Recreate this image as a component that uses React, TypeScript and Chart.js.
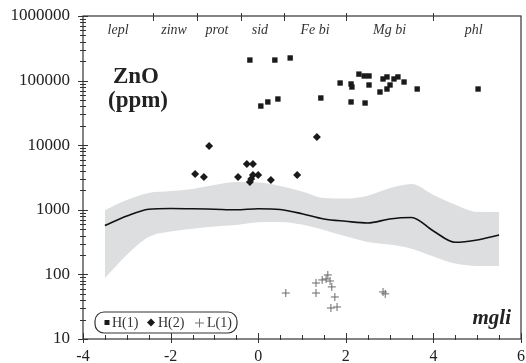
import React, { useEffect, useRef } from 'react';
import { Chart, registerables } from 'chart.js';

Chart.register(...registerables);

// ---- data ----
const curveX = [-3.5, -3.0, -2.5, -2.0, -1.5, -1.0, -0.5, 0, 0.5, 1.0, 1.5, 2.0, 2.5, 3.0, 3.5, 4.0, 4.5, 5.0, 5.5];
const bandUpper = [990, 1420, 1820, 1950, 2100, 2420, 2690, 2650, 2340, 1920, 1520, 1490, 1650, 2150, 2500, 1700, 1200, 930, 925];
const bandLower = [88, 200, 379, 460, 510, 550, 582, 640, 650, 590, 487, 389, 318, 290, 250, 190, 147, 135, 135];
const trendLine = [570, 800, 1020, 1050, 1040, 1020, 1000, 1040, 1010, 870, 720, 664, 625, 721, 760, 470, 314, 341, 407];

const h1X = [-0.19, 0.38, 0.73, 0.06, 0.22, 0.45, 1.43, 1.87, 2.12, 2.14, 2.30, 2.42, 2.53, 2.53, 2.12, 2.44, 2.78, 2.85, 2.94, 2.94, 3.01, 3.10, 3.19, 3.33, 3.63, 5.02];
const h1Y = [208000, 208000, 224000, 40400, 46700, 51900, 53800, 91800, 88700, 79600, 126000, 118000, 118000, 85500, 46700, 45000, 66600, 106000, 114000, 74100, 85500, 106000, 114000, 95100, 74100, 74100];

const h2X = [-1.12, -1.44, -1.24, -0.26, -0.12, -0.46, -0.19, -0.16, -0.12, 0.0, 0.29, 0.89, 1.34];
const h2Y = [9720, 3580, 3220, 5120, 5120, 3220, 2690, 3000, 3460, 3460, 2890, 3460, 13400];

const l1X = [0.63, 1.32, 1.32, 1.46, 1.55, 1.59, 1.64, 1.68, 1.75, 1.66, 1.80, 2.85, 2.90];
const l1Y = [51.5, 73.6, 51.5, 82, 85, 98, 79, 64, 44.7, 30.2, 31.3, 53.5, 50];

const xTickValues = [-4, -2, 0, 2, 4, 6];
const yTickValues = [10, 100, 1000, 10000, 100000, 1000000];
const mineralLabels = ['lepl', 'zinw', 'prot', 'sid', 'Fe bi', 'Mg bi', 'phl'];
const mineralPos = [-3.2, -1.92, -0.94, 0.04, 1.3, 3.0, 4.92];
const mineralBounds = [-2.4, -1.4, -0.4, 0.6, 2.0, 4.0];
const legendLabels = ['H(1)', 'H(2)', 'L(1)'];
const titleLines = ['ZnO', '(ppm)'];
const xAxisName = 'mgli';

const SERIF = '"Liberation Serif", "DejaVu Serif", serif';

const pts = (xs: number[], ys: number[]) => xs.map((x, i) => ({ x, y: ys[i] }));

const decoPlugin = {
  id: 'deco',
  afterDraw(chart: any) {
    const { ctx, chartArea: a, scales } = chart;
    const xs = scales.x;
    const ys = scales.y;
    ctx.save();
    ctx.strokeStyle = '#333';
    ctx.lineWidth = 1.2;
    // frame
    ctx.strokeRect(a.left, a.top, a.right - a.left, a.bottom - a.top);

    ctx.lineWidth = 1;
    ctx.beginPath();
    // bottom ticks every 0.5
    for (let i = 0; i <= 20; i++) {
      const v = -4 + i * 0.5;
      const px = Math.round(xs.getPixelForValue(v)) + 0.5;
      const major = i % 4 === 0;
      ctx.moveTo(px, a.bottom - (major ? 6 : 4));
      ctx.lineTo(px, a.bottom + (major ? 4 : 1));
    }
    // left log ticks
    for (let d = 1; d <= 6; d++) {
      for (let m = 1; m <= 9; m++) {
        const v = m * Math.pow(10, d);
        if (v > 1000000) break;
        const py = Math.round(ys.getPixelForValue(v)) + 0.5;
        const major = m === 1;
        ctx.moveTo(a.left - (major ? 5 : 3), py);
        ctx.lineTo(a.left + (major ? 5 : 3), py);
      }
    }
    // top boundary ticks
    mineralBounds.forEach((v) => {
      const px = Math.round(xs.getPixelForValue(v)) + 0.5;
      ctx.moveTo(px, a.top - 3);
      ctx.lineTo(px, a.top + 5);
    });
    ctx.stroke();

    // mineral labels
    ctx.fillStyle = '#333';
    ctx.font = `italic 14px ${SERIF}`;
    ctx.textAlign = 'center';
    ctx.textBaseline = 'alphabetic';
    mineralLabels.forEach((t, i) => {
      ctx.fillText(t, xs.getPixelForValue(mineralPos[i]), a.top + 18);
    });

    // title
    ctx.fillStyle = '#222';
    ctx.font = `bold 23px ${SERIF}`;
    ctx.fillText(titleLines[0], 136, 83);
    ctx.fillText(titleLines[1], 138, 107);

    // axis name
    ctx.font = `bold italic 21px ${SERIF}`;
    ctx.textAlign = 'right';
    ctx.fillText(xAxisName, a.right - 10, a.bottom - 15);

    // legend box
    const lx = 95, ly = 312, lw = 142, lh = 21;
    ctx.strokeStyle = '#333';
    ctx.lineWidth = 1.2;
    ctx.beginPath();
    if (ctx.roundRect) ctx.roundRect(lx, ly, lw, lh, 9);
    else ctx.rect(lx, ly, lw, lh);
    ctx.stroke();
    const cy = ly + lh / 2;
    ctx.fillStyle = '#1a1a1a';
    ctx.fillRect(104.5, cy - 2.5, 5, 5);
    ctx.beginPath();
    ctx.moveTo(151, cy - 4);
    ctx.lineTo(155, cy);
    ctx.lineTo(151, cy + 4);
    ctx.lineTo(147, cy);
    ctx.closePath();
    ctx.fill();
    ctx.strokeStyle = '#777';
    ctx.lineWidth = 1;
    ctx.beginPath();
    ctx.moveTo(195, cy + 0.5);
    ctx.lineTo(204, cy + 0.5);
    ctx.moveTo(199.5, cy - 4);
    ctx.lineTo(199.5, cy + 5);
    ctx.stroke();
    ctx.fillStyle = '#333';
    ctx.font = `14px ${SERIF}`;
    ctx.textAlign = 'left';
    ctx.textBaseline = 'middle';
    ctx.fillText(legendLabels[0], 112, cy + 1);
    ctx.fillText(legendLabels[1], 158, cy + 1);
    ctx.fillText(legendLabels[2], 207, cy + 1);
    ctx.restore();
  },
};

export default function App() {
  const ref = useRef<HTMLCanvasElement>(null);
  useEffect(() => {
    if (!ref.current) return;
    const chart = new Chart(ref.current, {
      type: 'line',
      data: {
        datasets: [
          {
            label: 'lower',
            data: pts(curveX, bandLower),
            borderWidth: 0,
            borderColor: 'rgba(0,0,0,0)',
            pointRadius: 0,
            cubicInterpolationMode: 'monotone',
            fill: false,
            order: 10,
          },
          {
            label: 'upper',
            data: pts(curveX, bandUpper),
            borderWidth: 0,
            borderColor: 'rgba(0,0,0,0)',
            backgroundColor: '#dddee0',
            pointRadius: 0,
            cubicInterpolationMode: 'monotone',
            fill: '-1',
            order: 9,
          },
          {
            label: 'trend',
            data: pts(curveX, trendLine),
            borderWidth: 1.6,
            borderColor: '#111',
            pointRadius: 0,
            cubicInterpolationMode: 'monotone',
            fill: false,
            order: 5,
          },
          {
            label: 'H(1)',
            data: pts(h1X, h1Y),
            showLine: false,
            pointStyle: 'rect',
            pointRadius: 3.8,
            pointBackgroundColor: '#1a1a1a',
            pointBorderWidth: 0,
            order: 1,
          },
          {
            label: 'H(2)',
            data: pts(h2X, h2Y),
            showLine: false,
            pointStyle: 'rectRot',
            pointRadius: 4,
            pointBackgroundColor: '#1a1a1a',
            pointBorderWidth: 0,
            order: 1,
          },
          {
            label: 'L(1)',
            data: pts(l1X, l1Y),
            showLine: false,
            pointStyle: 'cross',
            pointRadius: 4,
            pointBorderColor: '#6a6a6a',
            pointBorderWidth: 1,
            order: 1,
          },
        ] as any,
      },
      options: {
        animation: false,
        responsive: false,
        maintainAspectRatio: false,
        layout: { padding: { top: 16, right: 4, left: 0, bottom: 0 } },
        plugins: { legend: { display: false }, tooltip: { enabled: false } },
        scales: {
          x: {
            type: 'linear',
            min: -4,
            max: 6,
            grid: { display: false, drawTicks: false },
            border: { display: false },
            afterBuildTicks: (s: any) => {
              s.ticks = xTickValues.map((v) => ({ value: v }));
            },
            afterFit: (s: any) => {
              s.height = 24;
              s.paddingLeft = 0;
              s.paddingRight = 0;
            },
            ticks: {
              padding: 8,
              autoSkip: false,
              maxRotation: 0,
              color: '#222',
              font: { family: SERIF, size: 16 },
              callback: (v: any) => String(v),
            },
          },
          y: {
            type: 'logarithmic',
            min: 10,
            max: 1000000,
            grid: { display: false, drawTicks: false },
            border: { display: false },
            afterBuildTicks: (s: any) => {
              s.ticks = yTickValues.map((v) => ({ value: v }));
            },
            afterFit: (s: any) => {
              s.width = 83;
              s.paddingTop = 0;
              s.paddingBottom = 0;
            },
            ticks: {
              padding: 13,
              autoSkip: false,
              color: '#222',
              font: { family: SERIF, size: 17 },
              callback: (v: any) => String(v),
            },
          },
        },
      } as any,
      plugins: [decoPlugin],
    });
    return () => chart.destroy();
  }, []);
  return (
    <div style={{ position: 'fixed', left: 0, top: 0, width: 526, height: 363, background: '#fff' }}>
      <canvas ref={ref} width={526} height={363} style={{ display: 'block', width: 526, height: 363 }} />
    </div>
  );
}
